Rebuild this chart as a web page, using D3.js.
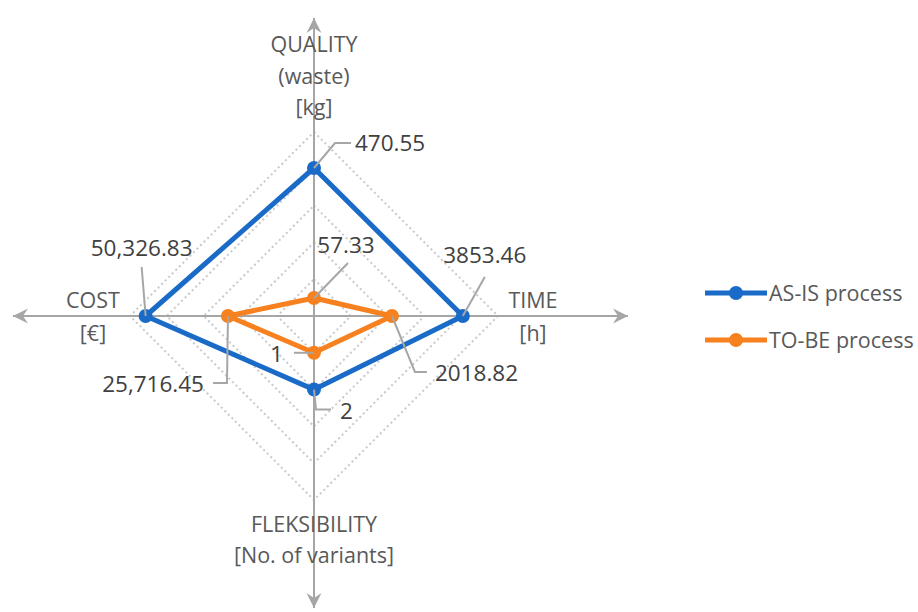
<!DOCTYPE html>
<html>
<head>
<meta charset="utf-8">
<script src="https://cdn.jsdelivr.net/npm/d3@7"></script>
<style>
body { margin: 0; background: #fff; }
svg text { font-family: "Open Sans", "Noto Sans", sans-serif; }
</style>
</head>
<body>
<div id="chart"></div>
<script>
// axis order: top, right, bottom, left
var axisNames = ["QUALITY", "TIME", "FLEKSIBILITY", "COST"]
var axisTitles = [["QUALITY", "(waste)", "[kg]"], ["TIME", "[h]"], ["FLEKSIBILITY", "[No. of variants]"], ["COST", "[€]"]]
var axisMax = [585, 4765, 5, 55000]
var seriesNames = ["AS-IS process", "TO-BE process"]
var asIs = [470.55, 3853.46, 2, 50326.83]
var toBe = [57.33, 2018.82, 1, 25716.45]
var asIsLabels = ["470.55", "3853.46", "2", "50,326.83"]
var toBeLabels = ["57.33", "2018.82", "1", "25,716.45"]
var gridLevels = 5

var width = 918
var height = 612
var cx = 314, cy = 316
var R = 184
var colors = ["#1a6bc8", "#f7801f"]

var svg = d3.select("#chart")
    .append("svg")
    .attr("width", width)
    .attr("height", height)

// angle for each axis (top, right, bottom, left)
var angle = d3.scalePoint()
    .domain(axisNames)
    .range([0, 2 * Math.PI * 3 / 4])

var rScales = axisMax.map(function(m) {
    return d3.scaleLinear().domain([0, m]).range([0, R])
})

function pos(i, v) {
    var a = angle(axisNames[i])
    var r = rScales[i](v)
    return [cx + r * Math.sin(a), cy - r * Math.cos(a)]
}

// dotted grid diamonds
var levels = d3.range(1, gridLevels + 1)
svg.append("g")
    .selectAll("path")
    .data(levels)
    .enter()
    .append("path")
    .attr("d", function(l) {
        var pts = axisNames.map(function(n, i) {
            return pos(i, axisMax[i] * l / gridLevels)
        })
        return d3.line()(pts) + "Z"
    })
    .attr("fill", "none")
    .attr("stroke", "#c9c9c9")
    .attr("stroke-width", 2)
    .attr("stroke-dasharray", "2,3")

// arrowhead
svg.append("defs").append("marker")
    .attr("id", "arr")
    .attr("viewBox", "-16 -8 17 16")
    .attr("refX", 0)
    .attr("refY", 0)
    .attr("markerWidth", 17)
    .attr("markerHeight", 16)
    .attr("markerUnits", "userSpaceOnUse")
    .attr("orient", "auto-start-reverse")
    .append("path")
    .attr("d", "M0,0 L-15,-7.5 L-10,0 L-15,7.5 Z")
    .attr("fill", "#a6a6a6")

svg.append("line")
    .attr("x1", cx).attr("y1", 608)
    .attr("x2", cx).attr("y2", 18)
    .attr("stroke", "#a6a6a6").attr("stroke-width", 2)
    .attr("marker-start", "url(#arr)")
    .attr("marker-end", "url(#arr)")
svg.append("line")
    .attr("x1", 13).attr("y1", cy)
    .attr("x2", 628).attr("y2", cy)
    .attr("stroke", "#a6a6a6").attr("stroke-width", 2)
    .attr("marker-start", "url(#arr)")
    .attr("marker-end", "url(#arr)")

// axis titles
var titlePos = [[cx, [44, 76, 107]], [533, [300, 333]], [cx, [524, 555]], [93, [300, 333]]]
axisTitles.forEach(function(lines, i) {
    lines.forEach(function(t, j) {
        svg.append("text")
            .text(t)
            .attr("x", titlePos[i][0])
            .attr("y", titlePos[i][1][j])
            .attr("dy", "0.36em")
            .attr("text-anchor", "middle")
            .attr("font-size", 21.5)
            .attr("fill", "#595959")
    })
})

// series polygons
var series = [asIs, toBe]
series.forEach(function(vals, s) {
    var pts = vals.map(function(v, i) { return pos(i, v) })
    svg.append("path")
        .attr("d", d3.line()(pts) + "Z")
        .attr("fill", "none")
        .attr("stroke", colors[s])
        .attr("stroke-width", 5)
        .attr("stroke-linejoin", "round")
    svg.append("g")
        .selectAll("circle")
        .data(pts)
        .enter()
        .append("circle")
        .attr("cx", function(d) { return d[0] })
        .attr("cy", function(d) { return d[1] })
        .attr("r", 7)
        .attr("fill", colors[s])
})

// data labels with leader lines (offsets from the point)
var leaders = [
    [ // AS-IS
        {pts: [[21, -25], [37, -25]], t: [41, -25], anchor: "start"},
        {pts: [[22, -39]], t: [22, -61], anchor: "middle"},
        {pts: [[2, 20], [17, 20]], t: [26, 21], anchor: "start"},
        {pts: [[-4, -49]], t: [-4, -68], anchor: "middle"}
    ],
    [ // TO-BE
        {pts: [[34, -35]], t: [32, -53], anchor: "middle"},
        {pts: [[23, 56], [35, 56]], t: [43, 57], anchor: "start"},
        {pts: [[-20, 0]], t: [-31, 1], anchor: "end"},
        {pts: [[-1, 67], [-15, 67]], t: [-24, 68], anchor: "end"}
    ]
]
var labelSets = [asIsLabels, toBeLabels]
series.forEach(function(vals, s) {
    vals.forEach(function(v, i) {
        var p = pos(i, v)
        var L = leaders[s][i]
        var line = [p].concat(L.pts.map(function(o) { return [p[0] + o[0], p[1] + o[1]] }))
        svg.append("path")
            .attr("d", d3.line()(line))
            .attr("fill", "none")
            .attr("stroke", "#a6a6a6")
            .attr("stroke-width", 2)
        svg.append("text")
            .text(labelSets[s][i])
            .attr("x", p[0] + L.t[0])
            .attr("y", p[1] + L.t[1])
            .attr("dy", "0.36em")
            .attr("text-anchor", L.anchor)
            .attr("font-size", 22.5)
            .attr("fill", "#404040")
    })
})

// legend
var legend = svg.append("g")
    .selectAll("g")
    .data(seriesNames)
    .enter()
    .append("g")
    .attr("transform", function(d, i) { return "translate(705," + (293 + i * 47) + ")" })
legend.append("line")
    .attr("x1", 0).attr("x2", 62)
    .attr("stroke", function(d, i) { return colors[i] })
    .attr("stroke-width", 5)
legend.append("circle")
    .attr("cx", 31)
    .attr("r", 7)
    .attr("fill", function(d, i) { return colors[i] })
legend.append("text")
    .text(function(d) { return d })
    .attr("x", 64)
    .attr("dy", "0.36em")
    .attr("font-size", 21.5)
    .attr("fill", "#595959")
</script>
</body>
</html>
